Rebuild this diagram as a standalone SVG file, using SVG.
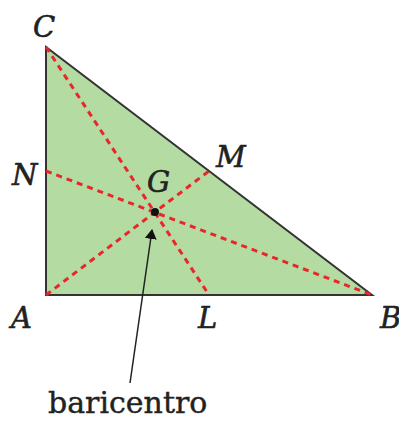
<svg xmlns="http://www.w3.org/2000/svg" width="399" height="421" viewBox="0 0 399 421">
<style>
.lbl{font-family:"DejaVu Serif",serif;font-style:italic;font-size:29px;fill:#222;stroke:#222;stroke-width:0.6}
.med{stroke:#e8262b;stroke-width:3;stroke-dasharray:6 5;fill:none}
</style>
<defs>
<marker id="ah" markerWidth="10" markerHeight="12" refX="9" refY="6" orient="auto" markerUnits="userSpaceOnUse" viewBox="0 0 10 12">
<path d="M0,0 L10,6 L0,12 Z" fill="#111"/>
</marker>
</defs>
<g id="triangle">
<polygon points="46,47 46,295 372,295" fill="#b4dba2" stroke="#333" stroke-width="2"/>
</g>
<g id="connectors">
<line class="med" x1="46" y1="47" x2="209" y2="295"/>
<line class="med" x1="46" y1="171" x2="372" y2="295"/>
<line class="med" x1="46" y1="295" x2="209" y2="171"/>
<line x1="130" y1="383" x2="152" y2="230" stroke="#222" stroke-width="1.5" marker-end="url(#ah)"/>
</g>
<g id="G"><circle cx="155" cy="212" r="4" fill="#111"/><text class="lbl" x="147" y="192">G</text></g>
<g id="C"><text class="lbl" x="33" y="37">C</text></g>
<g id="N"><text class="lbl" x="12" y="185">N</text></g>
<g id="M"><text class="lbl" x="216" y="167">M</text></g>
<g id="A"><text class="lbl" x="11" y="328">A</text></g>
<g id="L"><text class="lbl" x="198" y="328">L</text></g>
<g id="B"><text class="lbl" x="380" y="328">B</text></g>
<g id="baricentro"><text x="48" y="413" style="font-family:'DejaVu Serif',serif;font-size:30px;fill:#222;stroke:#222;stroke-width:0.4">baricentro</text></g>
</svg>
